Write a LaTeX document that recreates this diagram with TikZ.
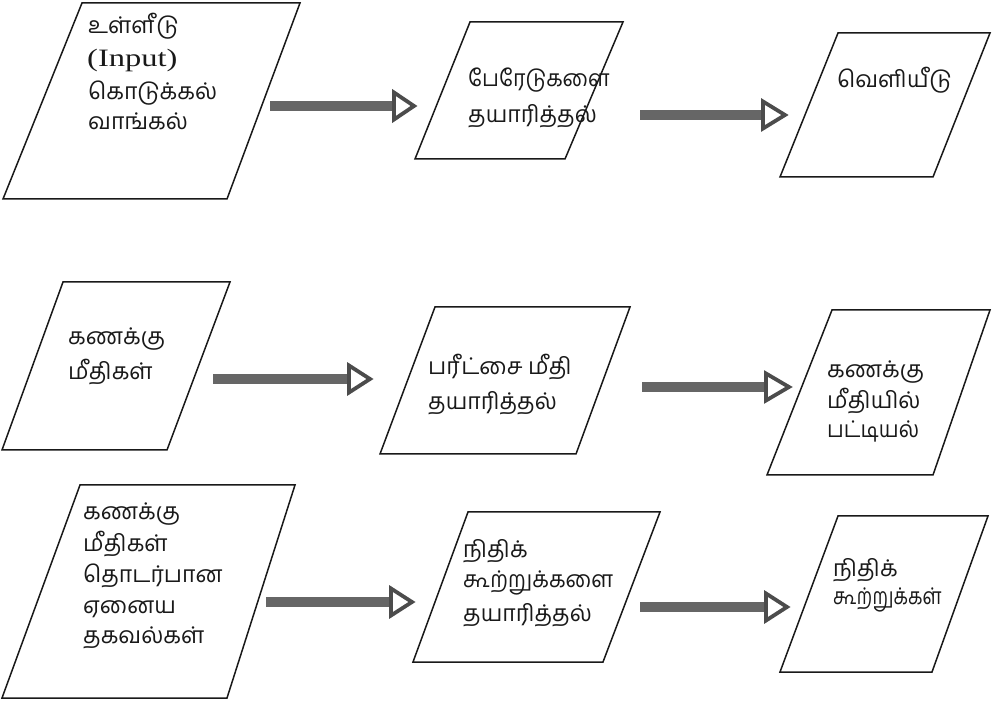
\documentclass[tikz,border=0pt]{standalone}
\usepackage{fontspec}
\newfontfamily\tamil[Script=Tamil]{Hind Madurai}
\newfontfamily\serifin{Liberation Serif}
\usetikzlibrary{calc}
\tikzset{
  iobox/.style={draw=black!90, line width=1.5pt, line join=miter},
  ta/.style={anchor=base west, inner sep=0pt, font=\tamil\fontsize{23}{23}\selectfont, text=black!90},
  en/.style={anchor=base west, inner sep=0pt, font=\serifin\fontsize{25}{25}\selectfont, text=black!90},
  shaft/.style={line width=10.5pt, draw=black!60, line cap=butt},
  headtri/.style={draw=black!70, line width=3.8pt, line join=miter, fill=white}
}
\begin{document}
\begin{tikzpicture}[x=1pt,y=-1pt]
\useasboundingbox (0,0) rectangle (997,708);
% boxes
\draw[iobox] (82,3) -- (300,3) -- (227,199) -- (3,199) -- cycle;
\draw[iobox] (470,22) -- (623,22) -- (565,159) -- (415,159) -- cycle;
\draw[iobox] (838,33) -- (990,33) -- (933,177) -- (780,177) -- cycle;
\draw[iobox] (63,282) -- (230,282) -- (167,450) -- (2,450) -- cycle;
\draw[iobox] (435,307) -- (630,307) -- (576,454) -- (380,454) -- cycle;
\draw[iobox] (832,310) -- (990,310) -- (933,475) -- (767,475) -- cycle;
\draw[iobox] (80,485) -- (295,485) -- (227,698) -- (2,698) -- cycle;
\draw[iobox] (468,512) -- (660,512) -- (603,662) -- (413,662) -- cycle;
\draw[iobox] (838,516) -- (988,516) -- (932,672) -- (780,672) -- cycle;
% texts
\node[ta] (t1a) at (88,34) {உள்ளீடு};
\node[en] (t1b) at (87,67) {\scalebox{1.3}[1]{(Input)}};
\node[ta] (t1c) at (88,100) {கொடுக்கல்};
\node[ta] (t1d) at (88,130) {வாங்கல்};
\node[ta] (t2a) at (468,87) {\scalebox{0.93}[1]{பேரேடுகளை}};
\node[ta] (t2b) at (468,123) {தயாரித்தல்};
\node[ta] (t3a) at (837,88) {வெளியீடு};
\node[ta] (t4a) at (68,345) {கணக்கு};
\node[ta] (t4b) at (68,380) {மீதிகள்};
\node[ta] (t5a) at (428,375) {பரீட்சை மீதி};
\node[ta] (t5b) at (428,410) {தயாரித்தல்};
\node[ta] (t6a) at (827,378) {கணக்கு};
\node[ta] (t6b) at (827,409) {மீதியில்};
\node[ta] (t6c) at (827,438) {\scalebox{0.92}[1]{பட்டியல்}};
\node[ta] (t7a) at (83,520) {கணக்கு};
\node[ta] (t7b) at (83,552) {மீதிகள்};
\node[ta] (t7c) at (83,583) {தொடர்பான};
\node[ta] (t7d) at (83,613) {ஏனைய};
\node[ta] (t7e) at (83,643) {தகவல்கள்};
\node[ta] (t8a) at (463,558) {நிதிக்};
\node[ta] (t8b) at (463,588) {\scalebox{0.94}[1]{கூற்றுக்களை}};
\node[ta] (t8c) at (463,621) {தயாரித்தல்};
\node[ta] (t9a) at (833,577) {நிதிக்};
\node[ta] (t9b) at (833,605) {\scalebox{0.82}[1]{கூற்றுக்கள்}};
% arrows: start, back of head, tip
\coordinate (a1s) at (270,106); \coordinate (a1b) at (394,106); \coordinate (a1t) at (414,106);
\coordinate (a2s) at (640,115); \coordinate (a2b) at (763,115); \coordinate (a2t) at (785,115);
\coordinate (a3s) at (213,379); \coordinate (a3b) at (349,379); \coordinate (a3t) at (370,379);
\coordinate (a4s) at (642,387); \coordinate (a4b) at (766,387); \coordinate (a4t) at (789,387);
\coordinate (a5s) at (266,602); \coordinate (a5b) at (391,602); \coordinate (a5t) at (412,602);
\coordinate (a6s) at (640,607); \coordinate (a6b) at (766,607); \coordinate (a6t) at (787,607);
\foreach \a in {a1,a2,a3,a4,a5,a6}{
  \draw[shaft] (\a s) -- (\a b);
  \draw[headtri] ($(\a b)+(0,-13.5)$) -- (\a t) -- ($(\a b)+(0,13.5)$) -- cycle;
}
\end{tikzpicture}
\end{document}
